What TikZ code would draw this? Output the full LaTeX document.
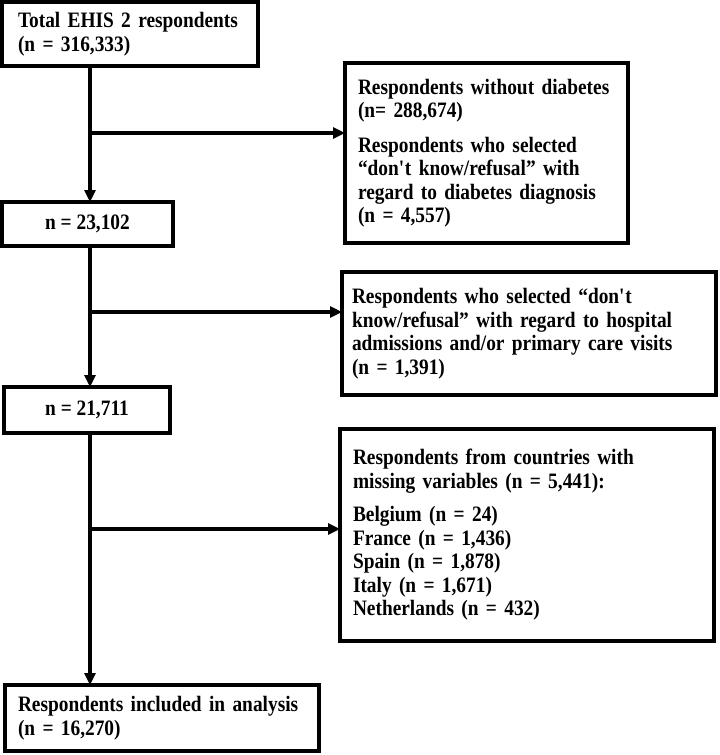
\documentclass[tikz,border=0pt]{standalone}
\usepackage{fontspec}
\setmainfont{Liberation Serif}[FakeStretch=0.88]
\usetikzlibrary{positioning,arrows.meta}

\begin{document}
\begin{tikzpicture}[x=1pt,y=-1pt,
	>={Triangle[length=12pt,width=11pt]},
	line width=4pt,
	box/.style={draw, line width=4pt, outer sep=0pt, anchor=north west,
		font=\fontsize{22}{23.5}\selectfont\bfseries},
	textbox/.style={box, align=left, inner ysep=0pt},
	numbox/.style={box, align=center, inner sep=0pt}]
	\fill[white] (0,0) rectangle (720,755);
	\useasboundingbox (0,0) rectangle (720,755);

	% main column
	\node[textbox, inner xsep=16pt, text width=224pt, minimum width=256pt, minimum height=64pt]
		(total) at (2,2) {Total EHIS 2 respondents\\(n = 316,333)};
	\node[numbox, minimum width=171pt, minimum height=44pt]
		(n1) at (2,202) {n = 23,102};
	\node[numbox, minimum width=166pt, minimum height=46pt]
		(n2) at (4,387) {n = 21,711};
	\node[textbox, inner xsep=13pt, text width=288pt, minimum width=314pt, minimum height=66pt]
		(final) at (5,685) {Respondents included in analysis\\(n = 16,270)};

	% exclusions
	\node[textbox, inner xsep=13pt, text width=257pt, minimum width=283pt, minimum height=180pt]
		(excl1) at (345,63) {Respondents without diabetes\\(n= 288,674)\\[11pt]
		Respondents who selected\\``don\textquotesingle t know/refusal'' with\\
		regard to diabetes diagnosis\\(n = 4,557)};
	\node[textbox, inner xsep=10pt, text width=354pt, minimum width=374pt, minimum height=123pt]
		(excl2) at (342,272) {Respondents who selected ``don\textquotesingle t\\
		know/refusal'' with regard to hospital\\admissions and/or primary care visits\\(n = 1,391)};
	\node[textbox, inner xsep=13pt, text width=348pt, minimum width=374pt, minimum height=212pt]
		(excl3) at (340,429) {Respondents from countries with\\missing variables (n = 5,441):\\[10pt]
		Belgium (n = 24)\\France (n = 1,436)\\Spain (n = 1,878)\\Italy (n = 1,671)\\
		Netherlands (n = 432)\\[14pt]};

	\coordinate (trunk) at (90,0);
	\foreach \a/\b in {total/n1, n1/n2, n2/final}{
		\draw[->] (\a.south -| trunk) -- (\b.north -| trunk);
	}
	\foreach \y/\b in {133/excl1, 312/excl2, 529/excl3}{
		\coordinate (br-\b) at (90,\y);
		\draw[->] (br-\b) -- (br-\b -| \b.west);
	}
\end{tikzpicture}
\end{document}
